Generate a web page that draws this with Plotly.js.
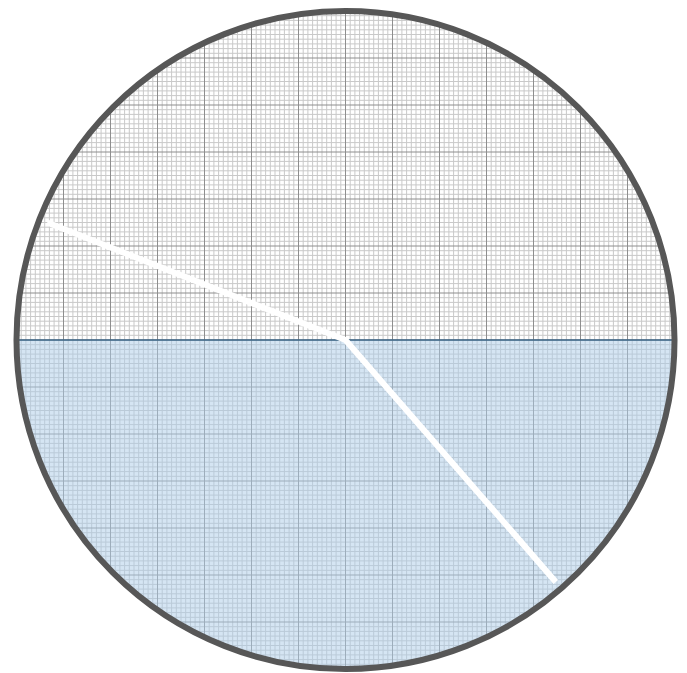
<!DOCTYPE html>
<html>
<head>
<meta charset="utf-8">
<script src="https://cdn.plot.ly/plotly-3.0.1.min.js"></script>
<style>html,body{margin:0;padding:0;background:#fff;}</style>
</head>
<body>
<div id="chart" style="width:687px;height:673px"></div>
<script>
// ---- data ----
const circleRadius = [7];            // in major grid squares
const majorSteps = [7];              // major grid lines each side of the centre
const minorPerMajor = [10];          // minor divisions per major square
const incidentAngleDeg = [68.5];     // angle of incoming ray from the normal
const refractedAngleDeg = [41];      // angle of refracted ray from the normal
const rayLength = [6.82];            // ray length in major squares

const R = circleRadius[0];
const n = majorSteps[0] * minorPerMajor[0];

// grid lines clipped to the circle
const minorX = [], minorY = [], majorX = [], majorY = [];
for (let i = -n; i <= n; i++) {
  const v = i / minorPerMajor[0];
  const h = Math.sqrt(Math.max(R * R - v * v, 0));
  const isMajor = i % minorPerMajor[0] === 0;
  const X = isMajor ? majorX : minorX, Y = isMajor ? majorY : minorY;
  // vertical
  X.push(v, v, null); Y.push(-h, h, null);
  // horizontal
  X.push(-h, h, null); Y.push(v, v, null);
}

// lower half (medium) fill
const fillX = [], fillY = [];
for (let d = 180; d <= 360; d += 1) {
  const t = d * Math.PI / 180;
  fillX.push(R * Math.cos(t)); fillY.push(R * Math.sin(t));
}
fillX.push(fillX[0]); fillY.push(fillY[0]);

// rays
const a1 = incidentAngleDeg[0] * Math.PI / 180;
const a2 = refractedAngleDeg[0] * Math.PI / 180;
const L = rayLength[0];
const rayX = [-L * Math.sin(a1), 0, L * Math.sin(a2)];
const rayY = [L * Math.cos(a1), 0, -L * Math.cos(a2)];

const traces = [
  {x: minorX, y: minorY, mode: 'lines', line: {color: '#c9c9c9', width: 1}, hoverinfo: 'skip'},
  {x: majorX, y: majorY, mode: 'lines', line: {color: '#8e8e8e', width: 1}, hoverinfo: 'skip'},
  {x: fillX, y: fillY, mode: 'lines', fill: 'toself', fillcolor: 'rgba(171,203,231,0.5)', line: {width: 0}, hoverinfo: 'skip'},
  {x: [-R, R], y: [0, 0], mode: 'lines', line: {color: '#3b6486', width: 1.5}, hoverinfo: 'skip'},
  {x: rayX, y: rayY, mode: 'lines', line: {color: '#ffffff', width: 6}, hoverinfo: 'skip'}
];

const pxPerUnit = 47;
const layout = {
  width: 687, height: 673,
  margin: {l: 0, r: 0, t: 0, b: 0, pad: 0},
  paper_bgcolor: '#ffffff', plot_bgcolor: '#ffffff',
  showlegend: false,
  xaxis: {visible: false, range: [-345.5 / pxPerUnit, (687 - 345.5) / pxPerUnit], fixedrange: true},
  yaxis: {visible: false, range: [-(673 - 340) / pxPerUnit, 340 / pxPerUnit], fixedrange: true},
  shapes: [
    {type: 'circle', xref: 'x', yref: 'y', x0: -R, x1: R, y0: -R, y1: R,
     line: {color: '#575757', width: 6}, layer: 'above'}
  ]
};

Plotly.newPlot('chart', traces, layout, {staticPlot: true, displayModeBar: false});
</script>
</body>
</html>
